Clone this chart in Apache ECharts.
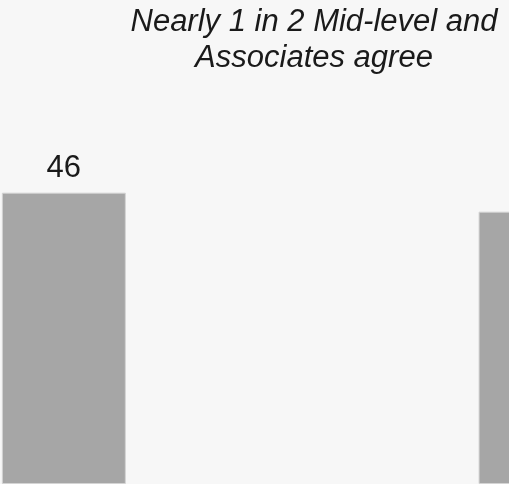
<!DOCTYPE html>
<html>
<head>
<meta charset="utf-8">
<style>
  html, body { margin: 0; padding: 0; background: #f7f7f7; }
  #chart { width: 509px; height: 484px; }
</style>
<script src="https://cdn.jsdelivr.net/npm/echarts@6/dist/echarts.min.js"></script>
</head>
<body>
<div id="chart"></div>
<script>
// Share of respondents who agree, by seniority group
const categories = ['Mid-level and Associates', 'Other'];
const agreeValues = [46, 43];
const titleText = 'Nearly 1 in 2 Mid-level and\nAssociates agree';

const chart = echarts.init(document.getElementById('chart'), null, { renderer: 'canvas' });

chart.setOption({
  backgroundColor: '#f7f7f7',
  animation: false,
  title: {
    text: titleText,
    left: 309,
    top: -1,
    textAlign: 'center',
    textStyle: {
      fontFamily: 'Liberation Sans, Arial, sans-serif',
      fontStyle: 'italic',
      fontWeight: 'normal',
      fontSize: 31,
      lineHeight: 36,
      color: '#1a1a1a'
    }
  },
  grid: {
    left: -174.5,
    width: 953.4,
    top: 9,
    bottom: 0,
    outerBoundsMode: 'none',
    containLabel: false
  },
  xAxis: {
    type: 'category',
    data: categories,
    show: false
  },
  yAxis: {
    type: 'value',
    min: 0,
    max: 75,
    show: false
  },
  series: [{
    type: 'bar',
    data: agreeValues,
    barWidth: 124,
    itemStyle: {
      color: '#a6a6a6',
      borderColor: '#d4d4d4',
      borderWidth: 1
    },
    label: {
      show: true,
      position: 'top',
      distance: 9,
      fontFamily: 'Liberation Sans, Arial, sans-serif',
      fontSize: 31,
      color: '#1a1a1a'
    }
  }]
});
</script>
</body>
</html>
